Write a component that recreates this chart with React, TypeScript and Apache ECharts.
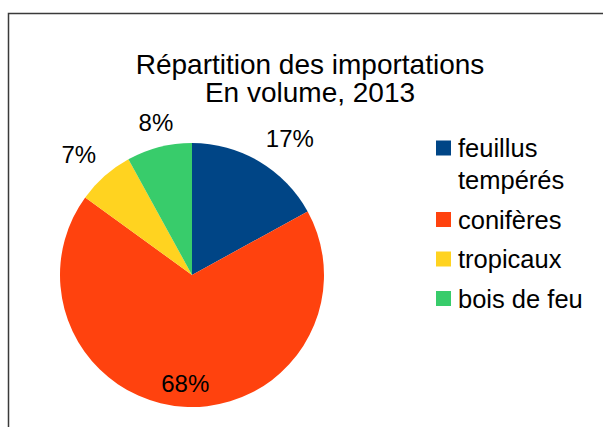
import React, { useEffect, useRef } from "react";
import * as echarts from "echarts";

const titleLines = ["Répartition des importations", "En volume, 2013"];
const categories = ["feuillus tempérés", "conifères", "tropicaux", "bois de feu"];
const legendLabels = ["feuillus\ntempérés", "conifères", "tropicaux", "bois de feu"];
const values = [17, 68, 7, 8];
const colors = ["#004586", "#ff420e", "#ffd320", "#38cc6b"];

const FONT = "'Liberation Sans', Arial, sans-serif";
const CENTER: [number, number] = [192, 275];
const RADIUS = 132;
const LEGEND_LINE = 32;

export default function App() {
  const ref = useRef<HTMLDivElement>(null);
  useEffect(() => {
    if (!ref.current) return;
    const chart = echarts.init(ref.current, undefined, { renderer: "svg" });
    const total = values.reduce((a, b) => a + b, 0);
    const cum: number[] = [];
    let acc = 0;
    values.forEach((v) => {
      cum.push(acc);
      acc += v;
    });

    const labelLayout = (params: any) => {
      const i = params.dataIndex;
      const f = (cum[i] + values[i] / 2) / total;
      const th = f * Math.PI * 2;
      const dx = Math.sin(th);
      const dy = -Math.cos(th);
      if (values[i] / total >= 0.5) {
        const d = RADIUS * 0.82;
        return {
          x: CENTER[0] + dx * d,
          y: CENTER[1] + dy * d,
          align: "center",
          verticalAlign: "middle",
        };
      }
      const d = RADIUS + 13;
      const align = Math.abs(dx) < 0.35 ? "center" : dx > 0 ? "left" : "right";
      const verticalAlign = Math.abs(dy) < 0.35 ? "middle" : dy < 0 ? "bottom" : "top";
      return {
        x: CENTER[0] + dx * d,
        y: CENTER[1] + dy * d,
        align,
        verticalAlign,
      };
    };

    chart.setOption({
      animation: false,
      backgroundColor: "#ffffff",
      title: {
        text: titleLines.join("\n"),
        left: 310,
        top: 50,
        textAlign: "center",
        padding: 0,
        textStyle: {
          fontFamily: FONT,
          fontSize: 28,
          fontWeight: "normal",
          color: "#000",
          lineHeight: 28,
        },
      },
      legend: {
        orient: "vertical",
        left: 436,
        top: 100,
        padding: 0,
        itemWidth: 15,
        itemHeight: 15,
        itemGap: 7.5,
        icon: "rect",
        selectedMode: false,
        formatter: (name: string) => {
          const label = legendLabels[categories.indexOf(name)];
          const n = label.split("\n").length;
          // pad with empty lines above so the first line sits level with the square
          return "\n".repeat(n - 1) + label;
        },
        textStyle: {
          fontFamily: FONT,
          fontSize: 25.5,
          color: "#000",
          lineHeight: LEGEND_LINE,
          padding: [0, 0, 0, 2],
        },
        data: categories,
      },
      graphic: [
        {
          type: "polyline",
          silent: true,
          shape: { points: [[8.5, 427], [8.5, 13.5], [603, 13.5]] },
          style: { stroke: "#3a3a3a", lineWidth: 1.5, fill: "none" },
        },
      ],
      series: [
        {
          type: "pie",
          center: CENTER,
          radius: RADIUS,
          startAngle: 90,
          clockwise: true,
          avoidLabelOverlap: false,
          itemStyle: { borderWidth: 0 },
          emphasis: { disabled: true },
          label: {
            show: true,
            position: "inside",
            formatter: "{c}%",
            fontFamily: FONT,
            fontSize: 24,
            color: "#000",
          },
          labelLine: { show: false },
          labelLayout,
          data: categories.map((c, i) => ({
            name: c,
            value: values[i],
            itemStyle: { color: colors[i] },
          })),
        },
      ],
    });
    return () => chart.dispose();
  }, []);
  return (
    <div
      ref={ref}
      style={{ position: "fixed", left: 0, top: 0, width: 603, height: 427 }}
    />
  );
}
